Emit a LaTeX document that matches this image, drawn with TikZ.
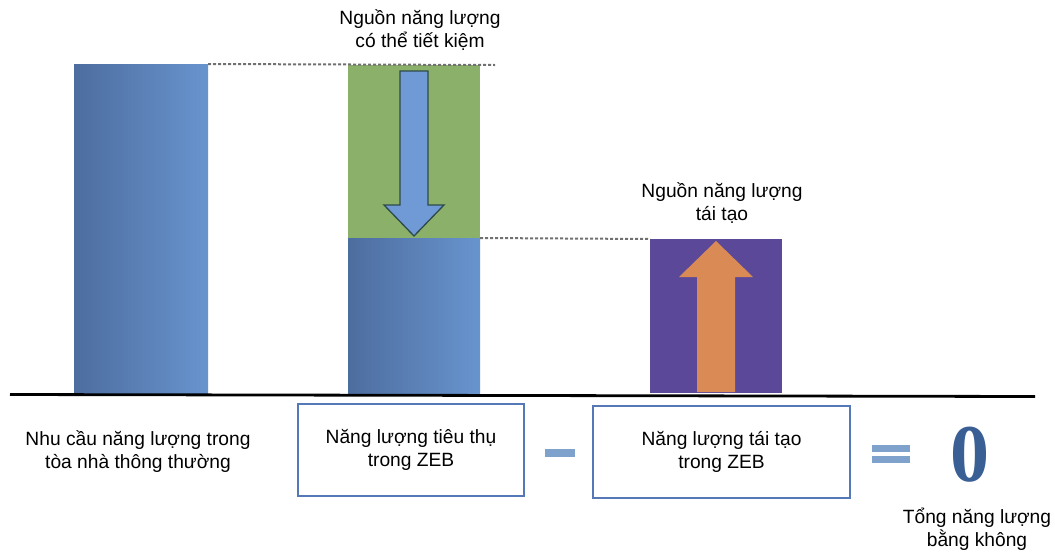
\documentclass[tikz,border=0pt]{standalone}
\usepackage{fontspec}
\setmainfont{Liberation Sans}
\newfontfamily\zerofont{Liberation Serif}
\definecolor{bardark}{HTML}{4D6D9F}
\definecolor{barlight}{HTML}{6894CE}
\definecolor{savegreen}{HTML}{8AB06A}
\definecolor{arrowblue}{HTML}{6F9AD6}
\definecolor{arrowedge}{HTML}{2E4A4A}
\definecolor{renpurple}{HTML}{5B4898}
\definecolor{renorange}{HTML}{D98A55}
\definecolor{boxblue}{HTML}{5478B8}
\definecolor{signblue}{HTML}{7FA2CC}
\definecolor{zeroblue}{HTML}{3A5F95}
\definecolor{dotgray}{HTML}{707070}
\begin{document}
\begin{tikzpicture}[x=1pt,y=-1pt,
  every node/.style={inner sep=0pt,outer sep=0pt},
  barshade/.style={shade,shading angle=30,left color=bardark,right color=barlight,draw=none},
  dotline/.style={draw=dotgray,line width=2pt,dash pattern=on 3pt off 2pt},
  eqbox/.style={draw=boxblue,line width=2.8pt,fill=white},
  lbl/.style={align=center,font=\fontsize{19.2}{23}\selectfont}]
\useasboundingbox (0,0) rectangle (1055,552);
% bars
\node[barshade,minimum width=134pt,minimum height=329pt,anchor=south west] (bar1) at (74,393) {};
\node[fill=savegreen,minimum width=132pt,minimum height=173pt,anchor=north west] (save) at (348,65) {};
\node[barshade,minimum width=132pt,minimum height=155pt,anchor=north west] (bar2) at (348,238) {};
\node[fill=renpurple,minimum width=132pt,minimum height=154pt,anchor=north west] (ren) at (650,239) {};
% dotted level lines
\draw[dotline] (bar1.north east) -- ([xshift=15pt]save.north east);
\draw[dotline] (bar2.north east) -- (ren.north west);
% down arrow
\draw[fill=arrowblue,draw=arrowedge,line width=1.3pt,line join=miter]
  (400,71) -- (428,71) -- (428,205) -- (444,205) -- (414,236) -- (384,205) -- (400,205) -- cycle;
% up arrow
\fill[renorange] (697,392) -- (697,277) -- (679,277) -- (716,241) -- (753,277) -- (735,277) -- (735,392) -- cycle;
% baseline
\draw[line width=2.8pt,black] (10,394.5) -- (1035,396.5);
% boxes
\node[eqbox,minimum width=226pt,minimum height=92pt,anchor=north west] (cons) at (298,404) {};
\node[eqbox,minimum width=257pt,minimum height=92pt,anchor=north west] (prod) at (593,406) {};
% signs
\node[fill=signblue,minimum width=30pt,minimum height=8pt] (minus) at (560,453) {};
\node[fill=signblue,minimum width=38pt,minimum height=7pt] (eqa) at (891,448) {};
\node[fill=signblue,minimum width=38pt,minimum height=7pt] (eqb) at (891,459) {};
\node[font=\zerofont\bfseries\fontsize{78}{78}\selectfont,text=zeroblue,yscale=1.05] (zero) at (970,455) {0};
% labels
\node[lbl] (t1) at (420,30) {Nguồn năng lượng\\có thể tiết kiệm};
\node[lbl] (t2) at (722,203) {Nguồn năng lượng\\tái tạo};
\node[lbl] (t3) at (138,452) {Nhu cầu năng lượng trong\\tòa nhà thông thường};
\node[lbl] (t4) at (cons.center) {Năng lượng tiêu thụ\\trong ZEB};
\node[lbl] (t5) at (prod.center) {Năng lượng tái tạo\\trong ZEB};
\node[lbl] (t6) at (977,529) {Tổng năng lượng\\bằng không};
\end{tikzpicture}
\end{document}
